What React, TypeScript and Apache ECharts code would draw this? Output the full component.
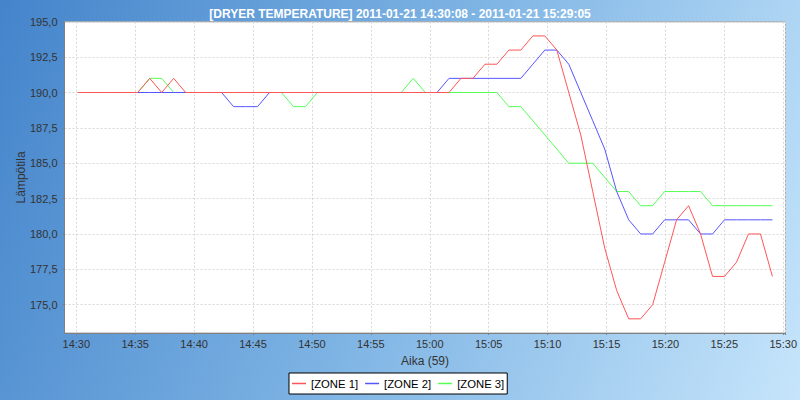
import React, { useEffect, useRef } from 'react';
import * as echarts from 'echarts';

const titleText = '[DRYER TEMPERATURE] 2011-01-21 14:30:08 - 2011-01-21 15:29:05';
const xAxisName = 'Aika (59)';
const yAxisName = 'Lämpötila';
const seriesNames = ['[ZONE 1]', '[ZONE 2]', '[ZONE 3]'];
const seriesColors = ['#ff5555', '#5555ff', '#55ff55'];

const times = [
  '14:30:08', '14:31:09', '14:32:10', '14:33:11', '14:34:12', '14:35:13', '14:36:14', '14:37:15',
  '14:38:16', '14:39:17', '14:40:18', '14:41:19', '14:42:20', '14:43:21', '14:44:22', '14:45:23',
  '14:46:24', '14:47:25', '14:48:26', '14:49:27', '14:50:28', '14:51:29', '14:52:30', '14:53:31',
  '14:54:32', '14:55:33', '14:56:34', '14:57:35', '14:58:36', '14:59:37', '15:00:37', '15:01:38',
  '15:02:39', '15:03:40', '15:04:41', '15:05:42', '15:06:43', '15:07:44', '15:08:45', '15:09:46',
  '15:10:47', '15:11:48', '15:12:49', '15:13:50', '15:14:51', '15:15:52', '15:16:53', '15:17:54',
  '15:18:55', '15:19:56', '15:20:57', '15:21:58', '15:22:59', '15:24:00', '15:25:01', '15:26:02',
  '15:27:03', '15:28:04', '15:29:05',
];

const zone1 = [
  190, 190, 190, 190, 190, 190, 191, 190, 191, 190, 190, 190, 190, 190, 190, 190,
  190, 190, 190, 190, 190, 190, 190, 190, 190, 190, 190, 190, 190, 190, 190, 190,
  191, 191, 192, 192, 193, 193, 194, 194, 193, 190, 187, 183, 179, 176, 174, 174,
  175, 178, 181, 182, 180, 177, 177, 178, 180, 180, 177,
];

const zone2 = [
  190, 190, 190, 190, 190, 190, 190, 190, 190, 190, 190, 190, 190, 189, 189, 189,
  190, 190, 190, 190, 190, 190, 190, 190, 190, 190, 190, 190, 190, 190, 190, 191,
  191, 191, 191, 191, 191, 191, 192, 193, 193, 192, 190, 188, 186, 183, 181, 180,
  180, 181, 181, 181, 180, 180, 181, 181, 181, 181, 181,
];

const zone3 = [
  190, 190, 190, 190, 190, 190, 191, 191, 190, 190, 190, 190, 190, 190, 190, 190,
  190, 190, 189, 189, 190, 190, 190, 190, 190, 190, 190, 190, 191, 190, 190, 190,
  190, 190, 190, 190, 189, 189, 188, 187, 186, 185, 185, 185, 184, 183, 183, 182,
  182, 183, 183, 183, 183, 182, 182, 182, 182, 182, 182,
];

const xMin = 869; // 14:29:00 in minutes of day
const xMax = 930.19; // ~15:30:11
const yMin = 173;
const yMax = 195;

function toMinutes(t: string): number {
  const [h, m, s] = t.split(':').map(Number);
  return h * 60 + m + s / 60;
}

function fmtTime(v: number): string {
  if (Math.abs(v / 5 - Math.round(v / 5)) > 1e-6) return '';
  const r = Math.round(v);
  const h = Math.floor(r / 60);
  const m = r - h * 60;
  return `${h}:${String(m).padStart(2, '0')}`;
}

function fmtTemp(v: number): string {
  if (Math.abs(v / 2.5 - Math.round(v / 2.5)) > 1e-6) return '';
  return v.toFixed(1).replace('.', ',');
}

export default function App() {
  const ref = useRef<HTMLDivElement>(null);

  useEffect(() => {
    document.body.style.margin = '0';
    if (!ref.current) return;
    const chart = echarts.init(ref.current, undefined, { renderer: 'svg' });
    const xs = times.map(toMinutes);
    const datasets = [zone1, zone2, zone3];
    const font = 'Liberation Sans, Arial, sans-serif';

    const series = datasets.map((vals, k) => ({
      name: seriesNames[k],
      type: 'line',
      data: vals.map((v, i) => [xs[i], v]),
      showSymbol: false,
      symbol: 'none',
      z: 10 - k,
      lineStyle: { width: 1, color: seriesColors[k] },
      itemStyle: { color: seriesColors[k] },
    }));

    chart.setOption({
      animation: false,
      title: {
        text: titleText,
        left: 'center',
        top: 3,
        textStyle: { color: '#ffffff', fontSize: 12, fontWeight: 'bold', fontFamily: font },
      },
      legend: {
        data: seriesNames.map((n, k) => ({
          name: n,
          itemStyle: { color: seriesColors[k], borderWidth: 0 },
        })),
        left: 289,
        top: 373,
        orient: 'horizontal',
        backgroundColor: '#ffffff',
        borderColor: '#000000',
        borderWidth: 1,
        padding: [5, 3, 5, 3],
        itemGap: 7,
        itemWidth: 14,
        itemHeight: 1.5,
        icon: 'rect',
        textStyle: { color: '#000000', fontSize: 11.3, fontFamily: font },
      },
      grid: {
        left: 64.5,
        right: 9.5,
        top: 21.77,
        bottom: 67,
        show: true,
        backgroundColor: '#ffffff',
        borderColor: '#a8a8a8',
        borderWidth: 1,
      },
      xAxis: {
        type: 'value',
        min: xMin,
        max: xMax,
        minInterval: 5,
        maxInterval: 5,
        name: xAxisName,
        nameLocation: 'middle',
        nameGap: 22,
        nameMoveOverlap: false,
        nameTextStyle: { color: '#333333', fontSize: 12, fontFamily: font },
        axisLine: { show: true, lineStyle: { color: '#808080', width: 1 } },
        axisTick: { show: true, length: 2, interval: 0, lineStyle: { color: '#808080' } },
        axisLabel: {
          interval: 0,
          margin: 5,
          color: '#333333',
          fontSize: 11,
          fontFamily: font,
          formatter: fmtTime,
          showMinLabel: false,
        },
        splitLine: { show: true, interval: 0, lineStyle: { color: '#d8d8d8', type: [2, 2], width: 1 } },
      },
      yAxis: {
        type: 'value',
        min: yMin,
        max: yMax,
        minInterval: 2.5,
        maxInterval: 2.5,
        name: yAxisName,
        nameLocation: 'middle',
        nameGap: 38,
        nameMoveOverlap: false,
        nameTextStyle: { color: '#333333', fontSize: 12, fontFamily: font },
        axisLine: { show: true, lineStyle: { color: '#808080', width: 1 } },
        axisTick: { show: true, length: 2, interval: 0, lineStyle: { color: '#808080' } },
        axisLabel: {
          interval: 0,
          margin: 7,
          color: '#333333',
          fontSize: 11,
          fontFamily: font,
          formatter: fmtTemp,
          showMinLabel: false,
        },
        splitLine: { show: true, interval: 0, lineStyle: { color: '#d8d8d8', type: [2, 2], width: 1 } },
      },
      series,
    });

    return () => chart.dispose();
  }, []);

  return (
    <div
      ref={ref}
      style={{
        width: 800,
        height: 400,
        background: 'linear-gradient(112deg, #4484cb 0%, #7eb4e4 50%, #c6e5fb 100%)',
      }}
    />
  );
}
